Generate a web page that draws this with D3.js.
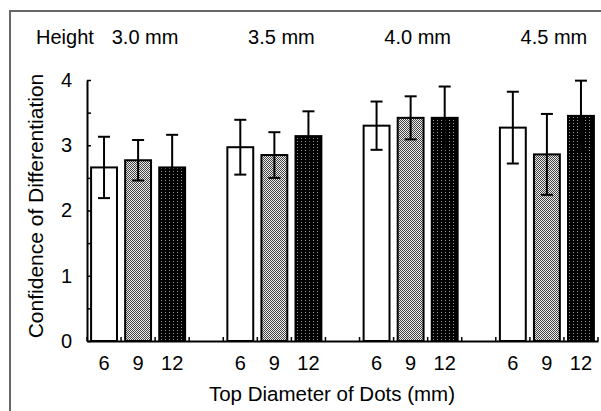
<!DOCTYPE html>
<html>
<head>
<meta charset="utf-8">
<script src="https://cdn.jsdelivr.net/npm/d3@7"></script>
<style>
  body { margin: 0; background: #fff; }
  text { font-family: "Liberation Sans", Arial, sans-serif; fill: #000; }
</style>
</head>
<body>
<svg id="chart"></svg>
<script>
// dot height groups and top diameters
var heights = ["3.0 mm", "3.5 mm", "4.0 mm", "4.5 mm"];
var diameters = ["6", "9", "12"];

// mean confidence per height group
var mean6 = [2.66, 2.97, 3.30, 3.27];
var mean9 = [2.77, 2.85, 3.42, 2.86];
var mean12 = [2.66, 3.14, 3.42, 3.45];

// error bar half-lengths
var err6 = [0.47, 0.42, 0.37, 0.55];
var err9 = [0.31, 0.35, 0.33, 0.62];
var err12 = [0.50, 0.38, 0.48, 0.54];

var yTicks = [0, 0.5, 1, 1.5, 2, 2.5, 3, 3.5, 4];

var W = 601, H = 411;
var margin = { top: 80, right: 3, bottom: 70, left: 87 };

var svg = d3.select("#chart").attr("width", W).attr("height", H);

// fill patterns
var defs = svg.append("defs");
var pg = defs.append("pattern").attr("id", "grayDots")
  .attr("width", 2).attr("height", 2).attr("patternUnits", "userSpaceOnUse");
pg.append("rect").attr("width", 2).attr("height", 2).attr("fill", "#ececec");
pg.append("rect").attr("width", 1).attr("height", 1).attr("fill", "#444");
pg.append("rect").attr("x", 1).attr("y", 1).attr("width", 1).attr("height", 1).attr("fill", "#444");

var pb = defs.append("pattern").attr("id", "blackDots")
  .attr("width", 4).attr("height", 3).attr("patternUnits", "userSpaceOnUse");
pb.append("rect").attr("width", 4).attr("height", 3).attr("fill", "#000");
pb.append("rect").attr("x", 1).attr("y", 0).attr("width", 1).attr("height", 1).attr("fill", "#999");

var fills = { "6": "#fff", "9": "url(#grayDots)", "12": "url(#blackDots)" };
var means = { "6": mean6, "9": mean9, "12": mean12 };
var errs = { "6": err6, "9": err9, "12": err12 };

// outer frame (left + top visible)
svg.append("rect")
  .attr("x", 10).attr("y", 11)
  .attr("width", W + 20).attr("height", H + 20)
  .attr("fill", "none").attr("stroke", "#666").attr("stroke-width", 2);

// slots: 3 bars per group, one empty slot between groups
var slots = [];
var bars = [];
heights.forEach(function(h, i) {
  if (i > 0) slots.push("gap" + i);
  diameters.forEach(function(d) {
    slots.push(h + "|" + d);
    bars.push({ key: h + "|" + d, dia: d, mean: means[d][i], err: errs[d][i] });
  });
});

var x = d3.scaleBand().domain(slots)
  .range([margin.left, W - margin.right])
  .paddingInner(0.24).paddingOuter(0.12);
var y = d3.scaleLinear().domain([0, 4]).range([H - margin.bottom, margin.top]);

// bars
svg.append("g").selectAll("rect").data(bars).enter().append("rect")
  .attr("x", function(d) { return x(d.key); })
  .attr("y", function(d) { return y(d.mean); })
  .attr("width", x.bandwidth())
  .attr("height", function(d) { return y(0) - y(d.mean); })
  .attr("fill", function(d) { return fills[d.dia]; })
  .attr("stroke", "#000")
  .attr("stroke-width", 2);

// error bars
var eb = svg.append("g").attr("stroke", "#000").attr("stroke-width", 2);
var cap = 6;
bars.forEach(function(d) {
  var cx = x(d.key) + x.bandwidth() / 2;
  eb.append("line").attr("x1", cx).attr("x2", cx)
    .attr("y1", y(d.mean - d.err)).attr("y2", y(d.mean + d.err));
  eb.append("line").attr("x1", cx - cap).attr("x2", cx + cap)
    .attr("y1", y(d.mean + d.err)).attr("y2", y(d.mean + d.err));
  eb.append("line").attr("x1", cx - cap).attr("x2", cx + cap)
    .attr("y1", y(d.mean - d.err)).attr("y2", y(d.mean - d.err));
});

// y axis
var yAxis = svg.append("g")
  .attr("transform", "translate(" + margin.left + ",0)")
  .call(d3.axisLeft(y).tickValues(yTicks).tickSizeInner(-4).tickSizeOuter(0).tickPadding(15)
    .tickFormat(function(d) { return d % 1 === 0 ? d : ""; }));
yAxis.select(".domain").attr("stroke-width", 2);
yAxis.selectAll(".tick line").attr("stroke-width", 1.5);
yAxis.selectAll("text").style("font-size", "20px").attr("fill", "#000");

// x axis
var xAxis = svg.append("g")
  .attr("transform", "translate(0," + y(0) + ")")
  .call(d3.axisBottom(x).tickSize(0).tickSizeOuter(0).tickPadding(15)
    .tickFormat(function(k) { return k.indexOf("gap") === 0 ? "" : k.split("|")[1]; }));
xAxis.select(".domain").attr("stroke-width", 2);
xAxis.selectAll("text").style("font-size", "20px").attr("fill", "#000");

// small inward ticks at slot boundaries
var gapW = x.step() - x.bandwidth();
var bounds = slots.map(function(k) { return x(k) - gapW / 2; });
bounds.push(x(slots[slots.length - 1]) + x.bandwidth() + gapW / 2);
svg.append("g").selectAll("line").data(bounds).enter().append("line")
  .attr("x1", function(d) { return d; }).attr("x2", function(d) { return d; })
  .attr("y1", y(0)).attr("y2", y(0) - 4)
  .attr("stroke", "#000").attr("stroke-width", 1.5);

// group labels
svg.append("text").attr("x", 36).attr("y", 44)
  .style("font-size", "20px").text("Height");
svg.append("g").selectAll("text").data(heights).enter().append("text")
  .attr("x", function(h) { return x(h + "|9") + x.bandwidth() / 2 + 7; })
  .attr("y", 44)
  .attr("text-anchor", "middle")
  .style("font-size", "20px")
  .text(function(h) { return h; });

// axis titles
svg.append("text")
  .attr("x", 332).attr("y", 401)
  .attr("text-anchor", "middle")
  .style("font-size", "20.5px")
  .text("Top Diameter of Dots (mm)");

svg.append("text")
  .attr("transform", "translate(43,206) rotate(-90)")
  .attr("text-anchor", "middle")
  .style("font-size", "21px")
  .text("Confidence of Differentiation");
</script>
</body>
</html>
